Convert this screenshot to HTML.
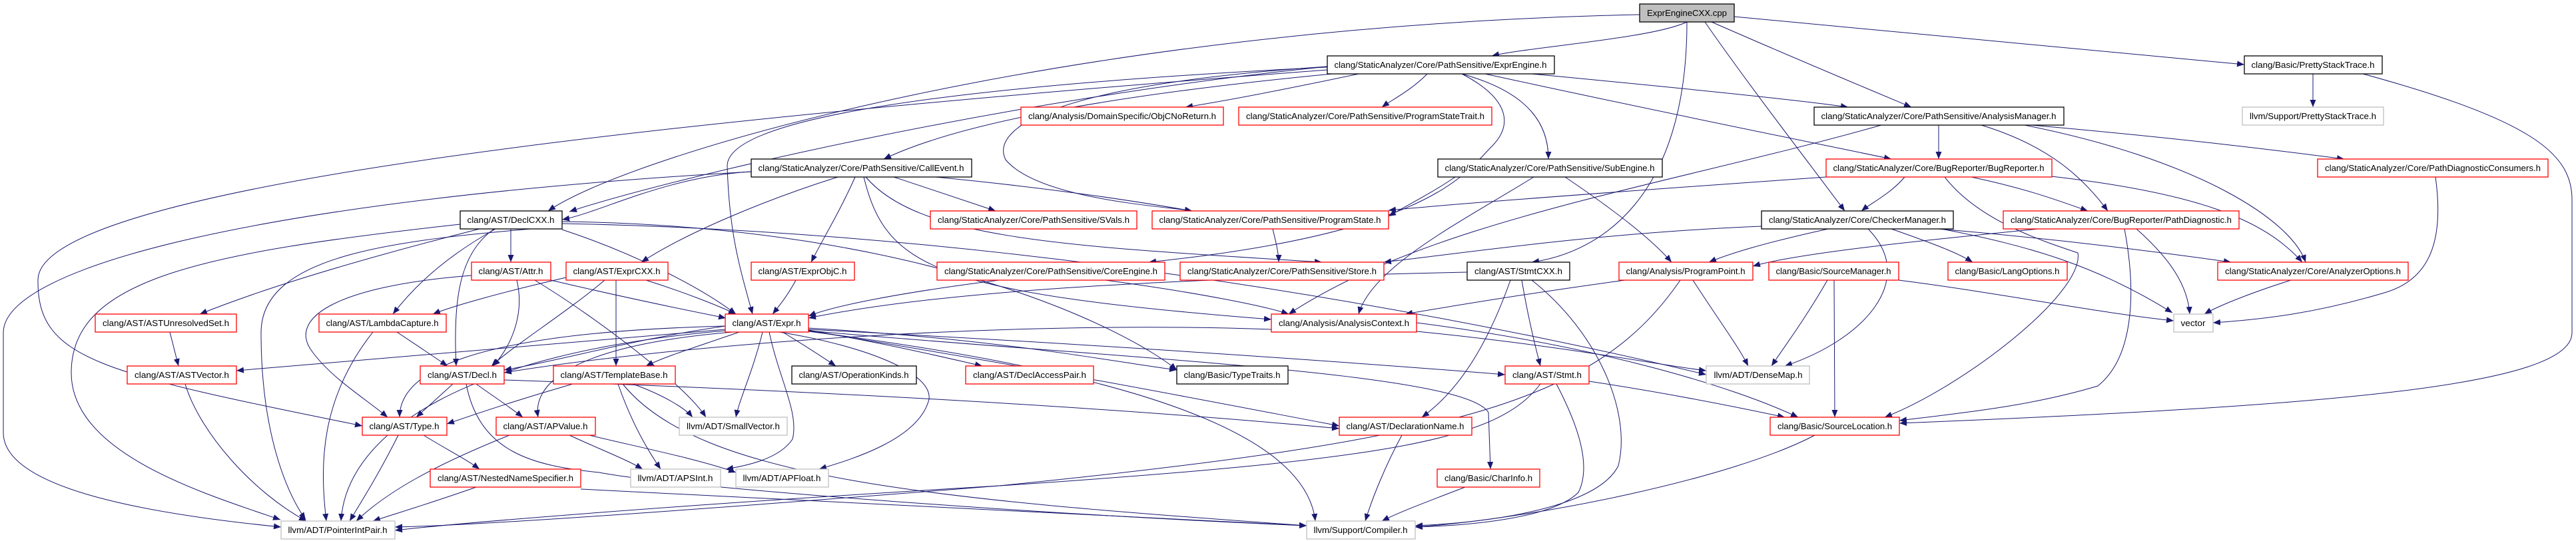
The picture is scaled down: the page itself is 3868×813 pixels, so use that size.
<!DOCTYPE html>
<html><head><meta charset="utf-8"><style>
html,body{margin:0;padding:0;background:#fff;}
svg{display:block;}
text{font-family:"Liberation Sans",sans-serif;font-size:13px;fill:#000;}
</style></head><body>
<svg width="3868" height="813" viewBox="0 0 3868 813" xmlns="http://www.w3.org/2000/svg">
<defs><marker id="a" markerUnits="userSpaceOnUse" markerWidth="12" markerHeight="9" refX="11" refY="4.5" orient="auto"><path d="M0,0 L11,4.5 L0,9 z" fill="#191970"/></marker></defs>
<g fill="none" stroke="#191970" stroke-width="1" marker-end="url(#a)">
<path d="M2533,33 C2480,58 2300,70 2240,84"/>
<path d="M2570,33 C2700,90 2820,140 2870,161"/>
<path d="M2560,33 C2620,120 2720,250 2770,317"/>
<path d="M2533,33 C2533,300 2400,380 2300,394"/>
<path d="M2604,25 C3000,60 3300,90 3370,97"/>
<path d="M2462,22 C1600,40 950,230 823,317"/>
<path d="M2040,111 C1950,130 1850,150 1780,161"/>
<path d="M2143,111 C2120,135 2090,150 2075,161"/>
<path d="M2195,111 C2300,140 2325,190 2325,239"/>
<path d="M2300,111 C2500,130 2700,150 2775,161"/>
<path d="M2230,111 C2500,170 2750,220 2840,239"/>
<path d="M2000,111 C1700,140 1450,180 1327,239"/>
<path d="M2010,100 C1400,130 1090,180 1092,250 C1095,350 1110,400 1130,472"/>
<path d="M1993,100 C1550,130 1490,200 1510,240 C1560,300 1750,310 1790,317"/>
<path d="M2195,111 C2270,150 2270,190 2240,220 C2200,260 2150,350 1725,394"/>
<path d="M1993,105 C1000,180 60,280 57,420 C55,540 150,560 544,640"/>
<path d="M1993,100 C1500,150 1000,270 855,318"/>
<path d="M2911,188 L2911,239"/>
<path d="M3050,188 C3300,210 3450,230 3520,239"/>
<path d="M2975,188 C3080,220 3130,270 3165,317"/>
<path d="M3040,188 C3300,240 3440,330 3462,394"/>
<path d="M2825,188 C2500,280 2150,330 1935,472"/>
<path d="M3473,111 L3473,161"/>
<path d="M3548,111 C3800,180 3862,230 3862,300 L3862,500 C3862,580 3500,610 2852,636"/>
<path d="M2860,266 C2840,290 2810,305 2795,317"/>
<path d="M2960,266 C3050,285 3100,305 3135,317"/>
<path d="M3080,265 C3300,290 3400,330 3457,394"/>
<path d="M2742,266 C2400,290 2200,305 2085,316"/>
<path d="M2920,266 C2970,330 3060,360 3120,380 C3130,440 2950,580 2830,627"/>
<path d="M3657,266 C3670,360 3650,420 3580,440 C3480,470 3400,480 3323,485"/>
<path d="M3208,344 C3260,390 3285,430 3288,472"/>
<path d="M3190,344 C3210,450 3200,540 3150,580 C3050,610 2950,620 2852,632"/>
<path d="M3060,344 C2900,360 2700,380 2632,400"/>
<path d="M3440,421 C3380,440 3330,460 3310,472"/>
<path d="M2745,344 C2650,365 2600,380 2566,394"/>
<path d="M2840,344 C2900,365 2940,380 2962,394"/>
<path d="M2910,344 C3100,360 3250,380 3350,394"/>
<path d="M2915,344 C3050,370 3150,400 3262,470"/>
<path d="M2805,344 C2880,420 2800,510 2680,550"/>
<path d="M2645,340 C2400,350 2200,380 2078,394"/>
<path d="M2350,266 C2430,320 2480,360 2510,394"/>
<path d="M2185,266 C2150,290 2110,310 2085,325"/>
<path d="M2303,266 C2200,330 2060,400 2040,472"/>
<path d="M1911,344 C1915,360 1920,380 1920,394"/>
<path d="M1500,421 C1350,440 1250,460 1214,475"/>
<path d="M1660,421 C1800,440 1900,460 1935,472"/>
<path d="M1128,258 C1000,265 900,320 844,330"/>
<path d="M1258,266 C1150,300 1030,350 963,394"/>
<path d="M1284,266 C1260,320 1235,360 1218,394"/>
<path d="M1342,266 C1400,285 1460,305 1495,317"/>
<path d="M1405,266 C1600,285 1720,305 1790,317"/>
<path d="M1300,266 C1380,360 1600,370 1985,394"/>
<path d="M1297,266 C1330,400 1400,440 1909,480"/>
<path d="M1128,258 C400,300 5,400 5,500 L5,650 C5,730 200,770 422,792"/>
<path d="M767,344 L767,394"/>
<path d="M720,344 C500,400 380,440 300,472"/>
<path d="M744,344 C680,380 630,420 590,472"/>
<path d="M742,344 C690,380 680,450 685,550"/>
<path d="M844,345 C950,380 1050,430 1105,472"/>
<path d="M691,337 C300,380 107,420 107,560 C107,680 300,740 421,781"/>
<path d="M844,333 C1400,340 1700,500 1767,556"/>
<path d="M844,336 C1600,350 2300,500 2562,563"/>
<path d="M844,340 C600,360 392,380 392,500 C392,650 430,740 459,781"/>
<path d="M776,421 C790,480 760,530 740,550"/>
<path d="M708,414 C500,430 430,480 470,530 C500,570 550,600 582,627"/>
<path d="M827,421 C950,450 1050,470 1090,478"/>
<path d="M803,421 C900,480 1030,580 1060,627"/>
<path d="M850,417 C750,440 680,460 650,472"/>
<path d="M908,421 C850,470 770,520 738,550"/>
<path d="M925,421 L925,550"/>
<path d="M970,421 C1030,440 1080,460 1105,472"/>
<path d="M1195,421 C1185,440 1170,460 1160,472"/>
<path d="M255,499 L268,550"/>
<path d="M596,499 C620,515 650,535 672,550"/>
<path d="M560,499 C480,600 480,700 490,783"/>
<path d="M278,577 C300,650 380,740 460,783"/>
<path d="M1089,495 C800,520 500,545 355,557"/>
<path d="M1089,490 C950,510 850,540 757,556"/>
<path d="M1110,499 C1050,520 1000,535 970,550"/>
<path d="M1089,490 C700,500 600,560 600,627"/>
<path d="M1100,499 C850,520 800,580 808,627"/>
<path d="M1175,499 C1210,520 1240,540 1255,550"/>
<path d="M1214,496 C1350,520 1430,540 1475,550"/>
<path d="M1214,493 C1500,510 1650,540 1767,556"/>
<path d="M1145,499 C1130,560 1110,600 1105,627"/>
<path d="M1155,499 C1170,570 1200,620 1190,660 C1170,690 1120,700 1090,705"/>
<path d="M1170,499 C1300,520 1400,560 1395,600 C1380,660 1280,690 1230,705"/>
<path d="M1214,495 C1700,520 2100,550 2260,563"/>
<path d="M1214,497 C1600,560 1800,600 2011,640"/>
<path d="M1214,497 C1700,540 2200,560 2235,620 L2238,705"/>
<path d="M1214,498 C1700,560 1960,650 1975,783"/>
<path d="M1089,497 C700,530 520,650 512,783"/>
<path d="M2127,498 C2350,520 2500,550 2562,557"/>
<path d="M1909,495 C1500,480 1000,520 757,560"/>
<path d="M2127,485 C2400,520 2600,580 2700,627"/>
<path d="M680,577 L625,627"/>
<path d="M715,577 C740,595 770,615 785,627"/>
<path d="M757,571 C1300,590 1700,615 2011,644"/>
<path d="M700,577 C720,680 800,700 900,710 C1000,730 1500,770 1962,790"/>
<path d="M860,577 C780,600 720,620 671,637"/>
<path d="M950,577 C1000,595 1030,615 1040,627"/>
<path d="M928,577 C950,640 975,680 992,705"/>
<path d="M935,577 C1050,720 1400,750 1962,790"/>
<path d="M636,654 C670,675 700,690 720,705"/>
<path d="M598,654 C570,710 545,750 525,783"/>
<path d="M855,654 C900,675 940,690 965,705"/>
<path d="M885,654 C950,670 1050,690 1105,710"/>
<path d="M765,654 C650,700 580,740 535,783"/>
<path d="M715,732 C650,755 600,770 560,783"/>
<path d="M872,735 C1300,760 1700,780 1962,790"/>
<path d="M2285,421 C2295,480 2305,520 2313,550"/>
<path d="M2268,421 C2240,500 2200,580 2135,627"/>
<path d="M2300,421 C2400,500 2450,620 2430,700 C2400,760 2250,785 2125,790"/>
<path d="M2203,409 C1700,420 1400,440 1214,478"/>
<path d="M2542,421 C2580,480 2610,520 2625,550"/>
<path d="M2440,421 C2300,440 2180,460 2110,472"/>
<path d="M2523,421 C2400,600 2200,660 1500,730 C1000,770 700,790 593,792"/>
<path d="M2744,421 C2710,480 2680,520 2660,550"/>
<path d="M2754,421 L2755,627"/>
<path d="M2851,421 C3000,440 3150,470 3264,482"/>
<path d="M2386,573 C2500,590 2600,610 2680,627"/>
<path d="M2313,577 C2250,660 2100,690 1500,730 C1000,760 700,785 593,797"/>
<path d="M2337,577 C2370,640 2390,700 2370,740 C2330,780 2200,790 2125,792"/>
<path d="M2105,654 C2080,700 2060,750 2050,783"/>
<path d="M2200,732 C2140,755 2100,770 2075,783"/>
<path d="M2725,654 C2600,720 2300,780 2125,792"/>
</g>
<g stroke-width="1.3" fill="#fff">
<rect x="2462" y="6" width="142" height="27" fill="#bfbfbf" stroke="#000"/>
<rect x="1993" y="84" width="341" height="27" stroke="#000"/>
<rect x="3370" y="84" width="207" height="27" stroke="#000"/>
<rect x="1533" y="161" width="304" height="27" stroke="#f00"/>
<rect x="1860" y="161" width="380" height="27" stroke="#f00"/>
<rect x="2724" y="161" width="375" height="27" stroke="#000"/>
<rect x="3367" y="161" width="212" height="27" stroke="#bfbfbf"/>
<rect x="1128" y="239" width="331" height="27" stroke="#000"/>
<rect x="2159" y="239" width="337" height="27" stroke="#000"/>
<rect x="2742" y="239" width="339" height="27" stroke="#f00"/>
<rect x="3480" y="239" width="346" height="27" stroke="#f00"/>
<rect x="691" y="317" width="153" height="27" stroke="#000"/>
<rect x="1397" y="317" width="310" height="27" stroke="#f00"/>
<rect x="1730" y="317" width="355" height="27" stroke="#f00"/>
<rect x="2645" y="317" width="288" height="27" stroke="#000"/>
<rect x="3008" y="317" width="354" height="27" stroke="#f00"/>
<rect x="708" y="394" width="119" height="27" stroke="#f00"/>
<rect x="850" y="394" width="153" height="27" stroke="#f00"/>
<rect x="1128" y="394" width="155" height="27" stroke="#f00"/>
<rect x="1407" y="394" width="342" height="27" stroke="#f00"/>
<rect x="1772" y="394" width="306" height="27" stroke="#f00"/>
<rect x="2203" y="394" width="154" height="27" stroke="#000"/>
<rect x="2431" y="394" width="201" height="27" stroke="#f00"/>
<rect x="2656" y="394" width="195" height="27" stroke="#f00"/>
<rect x="2925" y="394" width="179" height="27" stroke="#f00"/>
<rect x="3330" y="394" width="286" height="27" stroke="#f00"/>
<rect x="143" y="472" width="212" height="27" stroke="#f00"/>
<rect x="479" y="472" width="191" height="27" stroke="#f00"/>
<rect x="1089" y="472" width="125" height="27" stroke="#f00"/>
<rect x="1909" y="472" width="218" height="27" stroke="#f00"/>
<rect x="3264" y="472" width="59" height="27" stroke="#bfbfbf"/>
<rect x="191" y="550" width="164" height="27" stroke="#f00"/>
<rect x="631" y="550" width="126" height="27" stroke="#f00"/>
<rect x="831" y="550" width="183" height="27" stroke="#f00"/>
<rect x="1189" y="550" width="187" height="27" stroke="#000"/>
<rect x="1450" y="550" width="192" height="27" stroke="#f00"/>
<rect x="1767" y="550" width="167" height="27" stroke="#000"/>
<rect x="2260" y="550" width="126" height="27" stroke="#f00"/>
<rect x="2562" y="550" width="155" height="27" stroke="#bfbfbf"/>
<rect x="544" y="627" width="127" height="27" stroke="#f00"/>
<rect x="745" y="627" width="149" height="27" stroke="#f00"/>
<rect x="1020" y="627" width="162" height="27" stroke="#bfbfbf"/>
<rect x="2011" y="627" width="199" height="27" stroke="#f00"/>
<rect x="2658" y="627" width="194" height="27" stroke="#f00"/>
<rect x="646" y="705" width="226" height="27" stroke="#f00"/>
<rect x="947" y="705" width="135" height="27" stroke="#bfbfbf"/>
<rect x="1105" y="705" width="139" height="27" stroke="#bfbfbf"/>
<rect x="2158" y="705" width="154" height="27" stroke="#f00"/>
<rect x="422" y="783" width="171" height="27" stroke="#bfbfbf"/>
<rect x="1962" y="783" width="163" height="27" stroke="#bfbfbf"/>
</g>
<g text-anchor="middle" lengthAdjust="spacingAndGlyphs">
<text x="2533" y="24" textLength="120" lengthAdjust="spacingAndGlyphs">ExprEngineCXX.cpp</text>
<text x="2163" y="102" textLength="319" lengthAdjust="spacingAndGlyphs">clang/StaticAnalyzer/Core/PathSensitive/ExprEngine.h</text>
<text x="3473" y="102" textLength="185" lengthAdjust="spacingAndGlyphs">clang/Basic/PrettyStackTrace.h</text>
<text x="1685" y="179" textLength="282" lengthAdjust="spacingAndGlyphs">clang/Analysis/DomainSpecific/ObjCNoReturn.h</text>
<text x="2050" y="179" textLength="358" lengthAdjust="spacingAndGlyphs">clang/StaticAnalyzer/Core/PathSensitive/ProgramStateTrait.h</text>
<text x="2911" y="179" textLength="353" lengthAdjust="spacingAndGlyphs">clang/StaticAnalyzer/Core/PathSensitive/AnalysisManager.h</text>
<text x="3473" y="179" textLength="190" lengthAdjust="spacingAndGlyphs">llvm/Support/PrettyStackTrace.h</text>
<text x="1293" y="257" textLength="309" lengthAdjust="spacingAndGlyphs">clang/StaticAnalyzer/Core/PathSensitive/CallEvent.h</text>
<text x="2327" y="257" textLength="315" lengthAdjust="spacingAndGlyphs">clang/StaticAnalyzer/Core/PathSensitive/SubEngine.h</text>
<text x="2911" y="257" textLength="317" lengthAdjust="spacingAndGlyphs">clang/StaticAnalyzer/Core/BugReporter/BugReporter.h</text>
<text x="3653" y="257" textLength="324" lengthAdjust="spacingAndGlyphs">clang/StaticAnalyzer/Core/PathDiagnosticConsumers.h</text>
<text x="767" y="335" textLength="131" lengthAdjust="spacingAndGlyphs">clang/AST/DeclCXX.h</text>
<text x="1552" y="335" textLength="288" lengthAdjust="spacingAndGlyphs">clang/StaticAnalyzer/Core/PathSensitive/SVals.h</text>
<text x="1907" y="335" textLength="333" lengthAdjust="spacingAndGlyphs">clang/StaticAnalyzer/Core/PathSensitive/ProgramState.h</text>
<text x="2789" y="335" textLength="266" lengthAdjust="spacingAndGlyphs">clang/StaticAnalyzer/Core/CheckerManager.h</text>
<text x="3185" y="335" textLength="332" lengthAdjust="spacingAndGlyphs">clang/StaticAnalyzer/Core/BugReporter/PathDiagnostic.h</text>
<text x="767" y="412" textLength="97" lengthAdjust="spacingAndGlyphs">clang/AST/Attr.h</text>
<text x="926" y="412" textLength="131" lengthAdjust="spacingAndGlyphs">clang/AST/ExprCXX.h</text>
<text x="1205" y="412" textLength="133" lengthAdjust="spacingAndGlyphs">clang/AST/ExprObjC.h</text>
<text x="1578" y="412" textLength="320" lengthAdjust="spacingAndGlyphs">clang/StaticAnalyzer/Core/PathSensitive/CoreEngine.h</text>
<text x="1925" y="412" textLength="284" lengthAdjust="spacingAndGlyphs">clang/StaticAnalyzer/Core/PathSensitive/Store.h</text>
<text x="2280" y="412" textLength="132" lengthAdjust="spacingAndGlyphs">clang/AST/StmtCXX.h</text>
<text x="2531" y="412" textLength="179" lengthAdjust="spacingAndGlyphs">clang/Analysis/ProgramPoint.h</text>
<text x="2753" y="412" textLength="173" lengthAdjust="spacingAndGlyphs">clang/Basic/SourceManager.h</text>
<text x="3014" y="412" textLength="157" lengthAdjust="spacingAndGlyphs">clang/Basic/LangOptions.h</text>
<text x="3473" y="412" textLength="264" lengthAdjust="spacingAndGlyphs">clang/StaticAnalyzer/Core/AnalyzerOptions.h</text>
<text x="249" y="490" textLength="190" lengthAdjust="spacingAndGlyphs">clang/AST/ASTUnresolvedSet.h</text>
<text x="574" y="490" textLength="169" lengthAdjust="spacingAndGlyphs">clang/AST/LambdaCapture.h</text>
<text x="1151" y="490" textLength="103" lengthAdjust="spacingAndGlyphs">clang/AST/Expr.h</text>
<text x="2018" y="490" textLength="196" lengthAdjust="spacingAndGlyphs">clang/Analysis/AnalysisContext.h</text>
<text x="3293" y="490" textLength="37" lengthAdjust="spacingAndGlyphs">vector</text>
<text x="273" y="568" textLength="142" lengthAdjust="spacingAndGlyphs">clang/AST/ASTVector.h</text>
<text x="694" y="568" textLength="104" lengthAdjust="spacingAndGlyphs">clang/AST/Decl.h</text>
<text x="922" y="568" textLength="161" lengthAdjust="spacingAndGlyphs">clang/AST/TemplateBase.h</text>
<text x="1282" y="568" textLength="165" lengthAdjust="spacingAndGlyphs">clang/AST/OperationKinds.h</text>
<text x="1546" y="568" textLength="170" lengthAdjust="spacingAndGlyphs">clang/AST/DeclAccessPair.h</text>
<text x="1850" y="568" textLength="145" lengthAdjust="spacingAndGlyphs">clang/Basic/TypeTraits.h</text>
<text x="2323" y="568" textLength="104" lengthAdjust="spacingAndGlyphs">clang/AST/Stmt.h</text>
<text x="2640" y="568" textLength="133" lengthAdjust="spacingAndGlyphs">llvm/ADT/DenseMap.h</text>
<text x="607" y="645" textLength="105" lengthAdjust="spacingAndGlyphs">clang/AST/Type.h</text>
<text x="819" y="645" textLength="127" lengthAdjust="spacingAndGlyphs">clang/AST/APValue.h</text>
<text x="1101" y="645" textLength="140" lengthAdjust="spacingAndGlyphs">llvm/ADT/SmallVector.h</text>
<text x="2110" y="645" textLength="177" lengthAdjust="spacingAndGlyphs">clang/AST/DeclarationName.h</text>
<text x="2755" y="645" textLength="172" lengthAdjust="spacingAndGlyphs">clang/Basic/SourceLocation.h</text>
<text x="759" y="723" textLength="204" lengthAdjust="spacingAndGlyphs">clang/AST/NestedNameSpecifier.h</text>
<text x="1014" y="723" textLength="113" lengthAdjust="spacingAndGlyphs">llvm/ADT/APSInt.h</text>
<text x="1174" y="723" textLength="117" lengthAdjust="spacingAndGlyphs">llvm/ADT/APFloat.h</text>
<text x="2235" y="723" textLength="132" lengthAdjust="spacingAndGlyphs">clang/Basic/CharInfo.h</text>
<text x="507" y="801" textLength="149" lengthAdjust="spacingAndGlyphs">llvm/ADT/PointerIntPair.h</text>
<text x="2043" y="801" textLength="141" lengthAdjust="spacingAndGlyphs">llvm/Support/Compiler.h</text>
</g>
</svg>
</body></html>
